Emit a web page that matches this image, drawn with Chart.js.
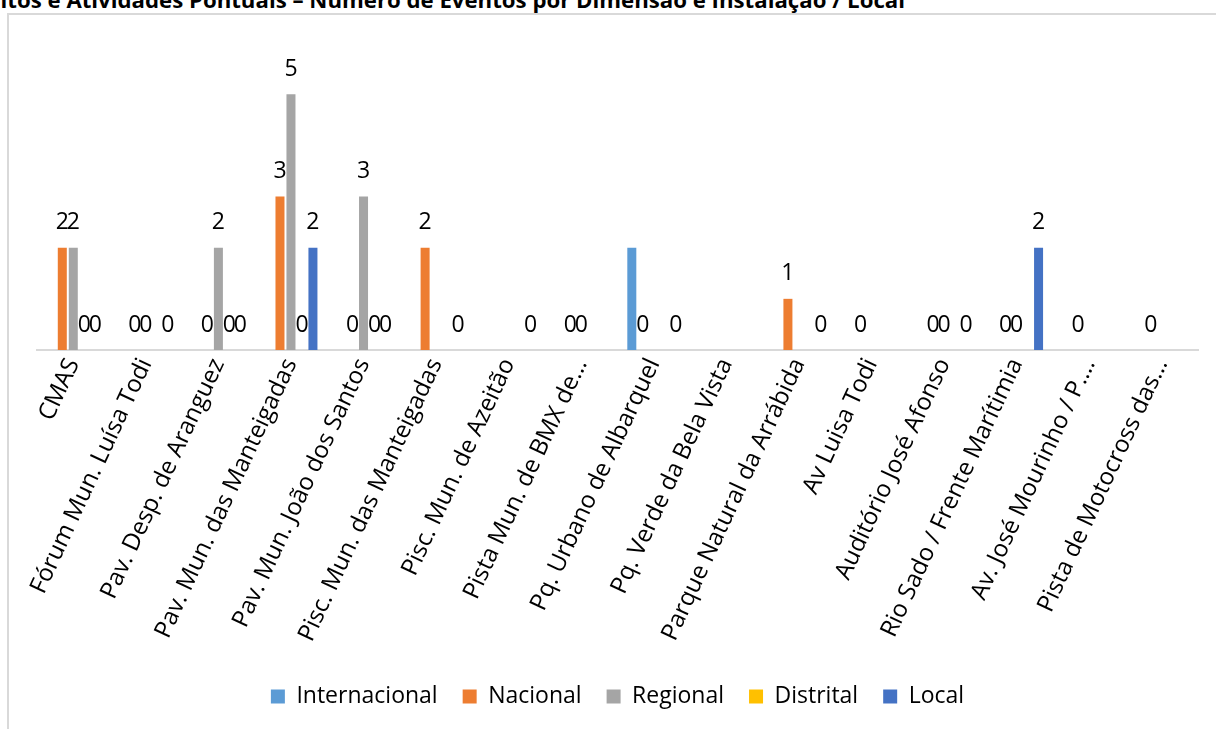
<!DOCTYPE html>
<html>
<head>
<meta charset="utf-8">
<script src="https://cdn.jsdelivr.net/npm/chart.js@4.4.1/dist/chart.umd.min.js"></script>
<style>
    body { margin: 0; width: 1216px; height: 729px; overflow: hidden; background: #fff; position: relative; }
    #title {
        position: absolute; top: -8px; left: 0; width: 905px; text-align: right;
        white-space: nowrap; font-family: "Open Sans", sans-serif; font-weight: bold;
        font-size: 19px; line-height: 19px; color: #000;
    }
    #frame {
        position: absolute; left: 7px; top: 13px; width: 1300px; height: 800px;
        border: 2px solid #d9d9d9; box-sizing: border-box;
    }
    #salesChart { position: absolute; left: 0; top: 0; }
</style>
</head>
<body>
<div id="title">itos e Atividades Pontuais – Número de Eventos por Dimensão e Instalação / Local</div>
<div id="frame"></div>
<canvas id="salesChart" width="1216" height="729"></canvas>
<script>
// Dados
const categorias = [
    "CMAS",
    "Fórum Mun. Luísa Todi",
    "Pav. Desp. de Aranguez",
    "Pav. Mun. das Manteigadas",
    "Pav. Mun. João dos Santos",
    "Pisc. Mun. das Manteigadas",
    "Pisc. Mun. de Azeitão",
    "Pista Mun. de BMX de…",
    "Pq. Urbano de Albarquel",
    "Pq. Verde da Bela Vista",
    "Parque Natural da Arrábida",
    "Av Luisa Todi",
    "Auditório José Afonso",
    "Rio Sado / Frente Marítimia",
    "Av. José Mourinho / P.…",
    "Pista de Motocross das…"
];

const internacional = [null, null, null, null, null, null, null, null, 2, null, null, null, null, null, null, null];
const nacional      = [2, 0, 0, 3, 0, 2, null, 0, 0, null, 1, 0, 0, 0, 0, 0];
const regional      = [2, 0, 2, 5, 3, null, null, 0, null, null, null, null, 0, 0, null, null];
const distrital     = [0, null, 0, 0, 0, null, null, null, null, null, null, null, null, null, null, null];
const local         = [0, 0, 0, 2, 0, 0, 0, null, 0, null, 0, null, 0, 2, null, null];

const FONTE = "'Open Sans', sans-serif";

// ajustar o título à largura visível
(function ajustarTitulo() {
    const el = document.getElementById("title");
    const c = document.createElement("canvas").getContext("2d");
    c.font = "bold 19px " + FONTE;
    const w = c.measureText(el.textContent).width;
    const size = 19 * 905 / w;
    el.style.fontSize = size + "px";
    el.style.lineHeight = size + "px";
    el.style.top = (9 - size * 0.888) + "px";
})();

// Plugin simples para os rótulos de dados (a série Internacional não tem rótulos)
const rotulosPlugin = {
    id: "rotulos",
    afterDatasetsDraw(chart) {
        const ctx = chart.ctx;
        ctx.save();
        ctx.font = "23px " + FONTE;
        ctx.fillStyle = "#000";
        ctx.textAlign = "center";
        ctx.textBaseline = "middle";
        chart.data.datasets.forEach((ds, i) => {
            if (ds.semRotulos) return;
            const meta = chart.getDatasetMeta(i);
            meta.data.forEach((bar, j) => {
                const v = ds.data[j];
                if (v === null || v === undefined) return;
                ctx.fillText(String(v), bar.x, bar.y - 25);
            });
        });
        ctx.restore();
    }
};

function createChart() {
    const ctx = document.getElementById("salesChart").getContext("2d");

    window.salesChart = new Chart(ctx, {
        type: "bar",
        data: {
            labels: categorias,
            datasets: [
                { label: "Internacional", data: internacional, backgroundColor: "#5B9BD5", semRotulos: true },
                { label: "Nacional", data: nacional, backgroundColor: "#ED7D31" },
                { label: "Regional", data: regional, backgroundColor: "#A5A5A5" },
                { label: "Distrital", data: distrital, backgroundColor: "#FFC000" },
                { label: "Local", data: local, backgroundColor: "#4472C4" }
            ]
        },
        options: {
            responsive: false,
            animation: false,
            categoryPercentage: 0.757,
            barPercentage: 0.82,
            layout: { padding: { left: 37, right: 18, top: 43, bottom: 11 } },
            plugins: {
                tooltip: { enabled: false },
                legend: {
                    position: "bottom",
                    labels: {
                        boxWidth: 14,
                        boxHeight: 14,
                        padding: 25,
                        color: "#000",
                        font: { family: FONTE, size: 23 }
                    }
                }
            },
            scales: {
                x: {
                    grid: { display: false, drawTicks: false },
                    border: { display: true, color: "#d9d9d9", width: 2 },
                    ticks: {
                        color: "#000",
                        font: { family: FONTE, size: 24 },
                        minRotation: 65,
                        maxRotation: 65,
                        padding: 4,
                        autoSkip: false
                    },
                    afterFit(scale) { scale.height = 310; }
                },
                y: {
                    display: false,
                    min: 0,
                    max: 6
                }
            }
        },
        plugins: [rotulosPlugin]
    });
}

document.addEventListener("DOMContentLoaded", () => {
    createChart();
});
</script>
</body>
</html>
